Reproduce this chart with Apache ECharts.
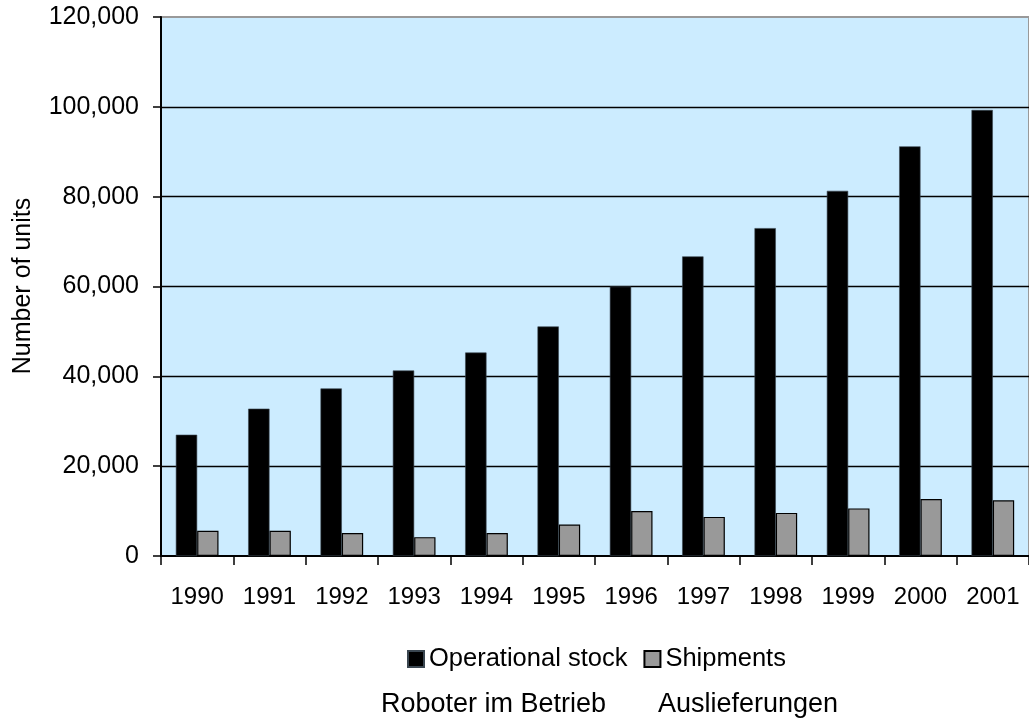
<!DOCTYPE html>
<html>
<head>
<meta charset="utf-8">
<title>Industrial robots: operational stock and shipments</title>
<script src="https://cdn.jsdelivr.net/npm/echarts@6/dist/echarts.min.js"></script>
<style>
  html, body { margin: 0; padding: 0; background: #ffffff; }
  #chart { width: 1029px; height: 725px; }
</style>
</head>
<body>
<div id="chart"></div>
<script>
// Years on the category axis
const years = ['1990', '1991', '1992', '1993', '1994', '1995', '1996', '1997', '1998', '1999', '2000', '2001'];

// Robots in operation at year end (units)
const operationalStock = [27000, 32800, 37300, 41300, 45300, 51100, 60000, 66700, 73000, 81300, 91200, 99300];

// Robots shipped during the year (units)
const shipments = [5600, 5600, 5100, 4200, 5100, 7000, 10000, 8700, 9600, 10600, 12700, 12400];

// Value axis ticks
const yTicks = [0, 20000, 40000, 60000, 80000, 100000, 120000];

const seriesNames = ['Operational stock', 'Shipments'];
const axisTitle = 'Number of units';
const germanLabels = ['Roboter im Betrieb', 'Auslieferungen'];

const FONT = '"Liberation Sans", Arial, sans-serif';

const chart = echarts.init(document.getElementById('chart'), null, { renderer: 'canvas' });

function thousands(v) {
  return String(v).replace(/\B(?=(\d{3})+(?!\d))/g, ',');
}

chart.setOption({
  animation: false,
  backgroundColor: '#ffffff',
  textStyle: { fontFamily: FONT, color: '#000' },
  grid: {
    left: 161,
    top: 17,
    width: 871,
    height: 539,
    show: true,
    backgroundColor: '#CCECFF',
    borderColor: '#999999',
    borderWidth: 2,
    containLabel: false
  },
  legend: {
    data: seriesNames,
    left: 407,
    top: 646,
    padding: 0,
    itemWidth: 16,
    itemHeight: 16,
    itemGap: 16,
    icon: 'rect',
    textStyle: { fontFamily: FONT, fontSize: 25.5, color: '#000' }
  },
  xAxis: {
    type: 'category',
    data: years,
    boundaryGap: true,
    axisLine: { show: true, lineStyle: { color: '#000', width: 2 } },
    axisTick: { show: true, length: 9, lineStyle: { color: '#000', width: 1.5 }, alignWithLabel: false },
    axisLabel: { fontFamily: FONT, fontSize: 24, color: '#000', margin: 29, interval: 0 },
    splitLine: { show: false }
  },
  yAxis: {
    type: 'value',
    min: yTicks[0],
    max: yTicks[yTicks.length - 1],
    interval: yTicks[1] - yTicks[0],
    axisLine: { show: true, lineStyle: { color: '#000', width: 2 } },
    axisTick: { show: true, length: 8, lineStyle: { color: '#000', width: 1.5 } },
    axisLabel: {
      fontFamily: FONT, fontSize: 25, color: '#000', margin: 22,
      formatter: function (v) { return thousands(v); }
    },
    splitLine: { show: true, showMinLine: false, showMaxLine: false, lineStyle: { color: '#000', width: 1.3 } }
  },
  series: [
    {
      name: seriesNames[0],
      type: 'bar',
      data: operationalStock,
      barGap: '0%',
      barCategoryGap: '41%',
      itemStyle: { color: '#000000', borderColor: '#3a4650', borderWidth: 0.6 }
    },
    {
      name: seriesNames[1],
      type: 'bar',
      data: shipments,
      barGap: '0%',
      barCategoryGap: '41%',
      itemStyle: { color: '#999999', borderColor: '#000000', borderWidth: 1.2 }
    }
  ],
  graphic: [
    {
      type: 'text',
      x: 23,
      y: 286,
      rotation: Math.PI / 2,
      style: {
        text: axisTitle,
        fontFamily: FONT,
        fontSize: 25,
        fill: '#000',
        align: 'center',
        verticalAlign: 'middle'
      }
    },
    {
      type: 'text',
      left: 381,
      top: 691,
      style: { text: germanLabels[0], fontFamily: FONT, fontSize: 27, fill: '#000' }
    },
    {
      type: 'text',
      left: 658,
      top: 691,
      style: { text: germanLabels[1], fontFamily: FONT, fontSize: 27, fill: '#000' }
    }
  ]
});
</script>
</body>
</html>
